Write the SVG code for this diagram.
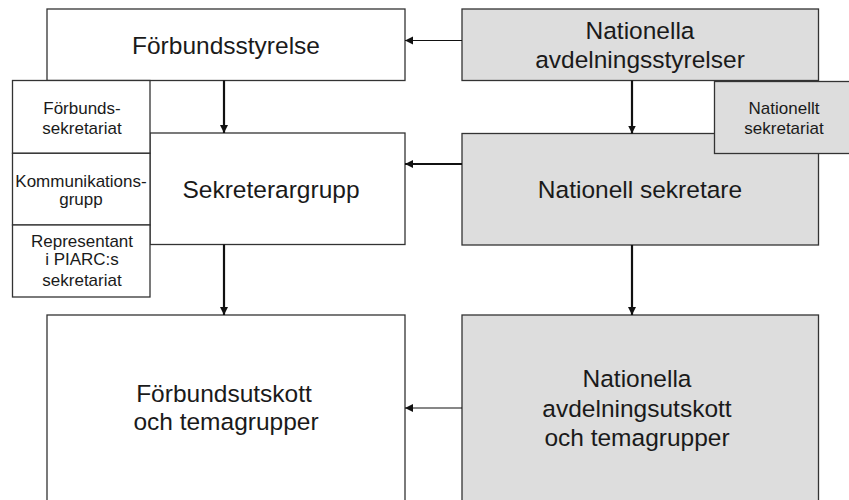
<svg xmlns="http://www.w3.org/2000/svg" width="849" height="500" viewBox="0 0 849 500">
<style>
.box{fill:#ffffff;stroke:#333333;stroke-width:1.3}
.grey{fill:#dddddd;stroke:#333333;stroke-width:1.3}
.big{font-family:"Liberation Sans",Arial,sans-serif;font-size:24.5px;fill:#1a1a1a;text-anchor:middle}
.small{font-family:"Liberation Sans",Arial,sans-serif;font-size:17px;fill:#1a1a1a;text-anchor:middle}
.c1{stroke:#111111;stroke-width:1.2;fill:none}
.c2{stroke:#111111;stroke-width:2.2;fill:none}
</style>
<defs>
<marker id="ah" markerUnits="userSpaceOnUse" markerWidth="9" markerHeight="9" refX="8" refY="4" orient="auto">
<path d="M0,0 L8,4 L0,8 Z" fill="#111111"/>
</marker>
</defs>
<rect width="849" height="500" fill="#ffffff"/>
<g id="forbundsstyrelse">
<rect class="box" x="47" y="9" width="358" height="71.5"/>
<text class="big" x="226" y="54">Förbundsstyrelse</text>
</g>
<g id="nationella-avdelningsstyrelser">
<rect class="grey" x="462" y="9" width="356.5" height="71.5"/>
<text class="big" x="640" y="39">Nationella</text>
<text class="big" x="640" y="68">avdelningsstyrelser</text>
</g>
<g id="sekreterargrupp">
<rect class="box" x="150" y="133" width="255" height="111.5"/>
<text class="big" x="271" y="198">Sekreterargrupp</text>
</g>
<g id="forbundssekretariat">
<rect class="box" x="12.5" y="80.5" width="137.5" height="72.8"/>
<text class="small" x="82" y="113.5">Förbunds-</text>
<text class="small" x="82" y="134">sekretariat</text>
</g>
<g id="kommunikationsgrupp">
<rect class="box" x="12.5" y="153.3" width="137.5" height="71.7"/>
<text class="small" x="81" y="186.5">Kommunikations-</text>
<text class="small" x="81" y="205">grupp</text>
</g>
<g id="representant">
<rect class="box" x="12.5" y="225" width="137.5" height="72"/>
<text class="small" x="82" y="246.5">Representant</text>
<text class="small" x="82" y="265">i PIARC:s</text>
<text class="small" x="82" y="285.5">sekretariat</text>
</g>
<g id="nationell-sekretare">
<rect class="grey" x="462" y="133.5" width="356.5" height="111.5"/>
<text class="big" x="640" y="198">Nationell sekretare</text>
</g>
<g id="nationellt-sekretariat">
<rect class="grey" x="714.5" y="81.5" width="140" height="72"/>
<text class="small" x="784" y="113.5">Nationellt</text>
<text class="small" x="784" y="134">sekretariat</text>
</g>
<g id="forbundsutskott">
<rect class="box" x="47" y="315" width="358" height="200"/>
<text class="big" x="224" y="401.5">Förbundsutskott</text>
<text class="big" x="226" y="430">och temagrupper</text>
</g>
<g id="nationella-avdelningsutskott">
<rect class="grey" x="462" y="315" width="356.5" height="200"/>
<text class="big" x="637" y="387">Nationella</text>
<text class="big" x="637" y="416.5">avdelningsutskott</text>
<text class="big" x="637" y="445.5">och temagrupper</text>
</g>
<g id="connectors">
<line class="c1" x1="462" y1="40.5" x2="405" y2="40.5" marker-end="url(#ah)"/>
<line class="c2" x1="462" y1="164" x2="405" y2="164" marker-end="url(#ah)"/>
<line class="c1" x1="462" y1="408" x2="405" y2="408" marker-end="url(#ah)"/>
<line class="c2" x1="224" y1="80.5" x2="224" y2="133" marker-end="url(#ah)"/>
<line class="c2" x1="224" y1="244.5" x2="224" y2="315" marker-end="url(#ah)"/>
<line class="c2" x1="632" y1="80.5" x2="632" y2="133.5" marker-end="url(#ah)"/>
<line class="c2" x1="632" y1="245" x2="632" y2="315" marker-end="url(#ah)"/>
</g>
</svg>
